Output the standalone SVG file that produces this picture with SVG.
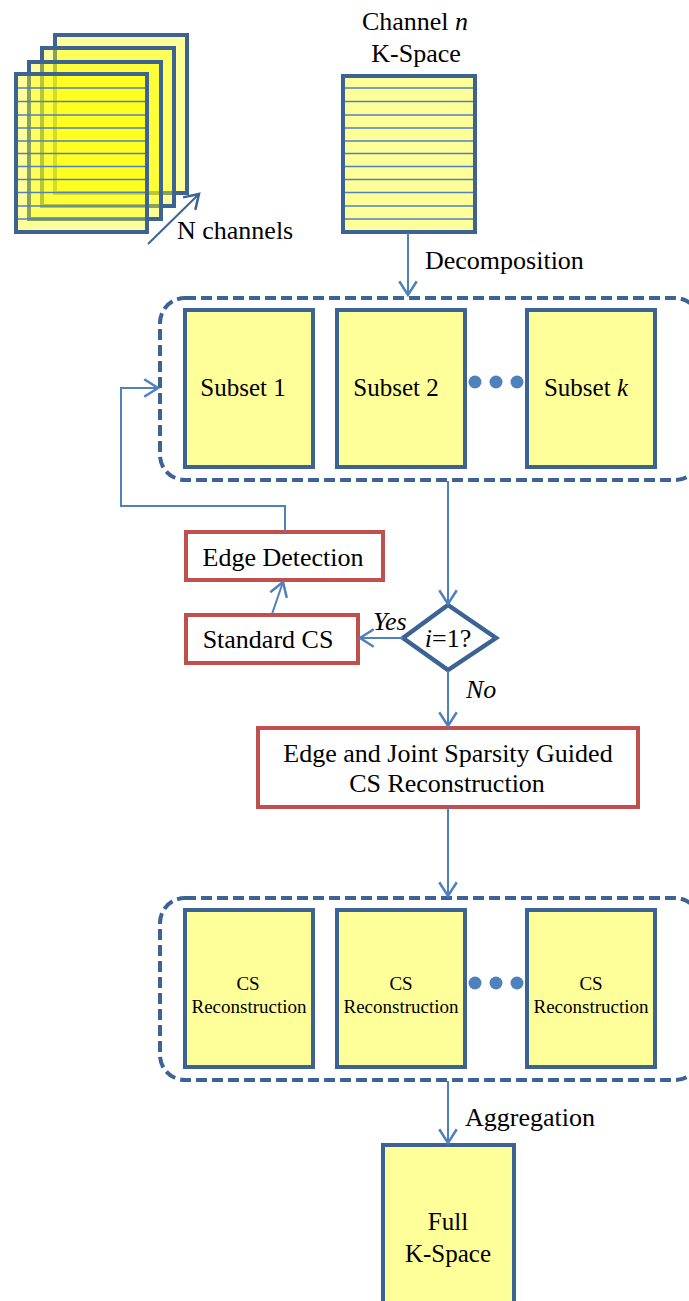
<svg xmlns="http://www.w3.org/2000/svg" width="689" height="1301" viewBox="0 0 689 1301">
<defs>
<style>
.t{font-family:"Liberation Serif","Times New Roman",serif;fill:#000;font-size:26px}
.tm{font-size:25px}
.ts{font-size:19px}
.m{text-anchor:middle}
.blk{fill:#ffff99;stroke:#3c6394;stroke-width:4}
.stk{fill:#ffff00;fill-opacity:0.4;stroke:#3c6394;stroke-width:4}
.rule{stroke:#4f81bd;stroke-width:1.6}
.red{fill:#fff;stroke:#c0504d;stroke-width:4}
.dash{fill:none;stroke:#3c6394;stroke-width:4;stroke-dasharray:11 5}
.con{fill:none;stroke:#4f81bd;stroke-width:2}
.dot{fill:#4f81bd}
</style>
<marker id="ah" markerUnits="userSpaceOnUse" markerWidth="20" markerHeight="20" viewBox="-12 -8 14 16" refX="0" refY="0" orient="auto">
<path d="M-11,-7 L0,0 L-11,7" fill="none" stroke="#4f81bd" stroke-width="2"/>
</marker>
<marker id="ahd" markerUnits="userSpaceOnUse" markerWidth="20" markerHeight="20" viewBox="-12 -8 14 16" refX="0" refY="0" orient="auto">
<path d="M-11,-7 L0,0 L-11,7" fill="none" stroke="#3c6394" stroke-width="2"/>
</marker>
</defs>

<g id="channel-stack">
<rect class="stk" x="55" y="35" width="132" height="158"/>
<rect class="stk" x="42" y="48" width="132" height="158"/>
<rect class="stk" x="29" y="62" width="132" height="157"/>
<rect class="stk" x="16" y="74" width="131" height="158"/>
<g class="rule">
<line x1="18" y1="88" x2="145" y2="88"/><line x1="18" y1="101.5" x2="145" y2="101.5"/><line x1="18" y1="115" x2="145" y2="115"/><line x1="18" y1="128" x2="145" y2="128"/><line x1="18" y1="141" x2="145" y2="141"/><line x1="18" y1="153.5" x2="145" y2="153.5"/><line x1="18" y1="166.5" x2="145" y2="166.5"/><line x1="18" y1="179.5" x2="145" y2="179.5"/><line x1="18" y1="192.5" x2="145" y2="192.5"/><line x1="18" y1="206" x2="145" y2="206"/><line x1="18" y1="219" x2="145" y2="219"/>
</g>
<line x1="148" y1="244" x2="199" y2="194" stroke="#3c6394" stroke-width="2" marker-end="url(#ahd)"/>
<text class="t" x="177" y="239">N channels</text>
</g>

<g id="channel-n">
<text class="t m" x="415" y="30">Channel <tspan font-style="italic">n</tspan></text>
<text class="t m" x="416" y="62">K-Space</text>
<rect class="blk" x="343" y="76" width="132" height="156"/>
<g class="rule">
<line x1="345" y1="88" x2="473" y2="88"/><line x1="345" y1="101.5" x2="473" y2="101.5"/><line x1="345" y1="115" x2="473" y2="115"/><line x1="345" y1="128" x2="473" y2="128"/><line x1="345" y1="141" x2="473" y2="141"/><line x1="345" y1="153.5" x2="473" y2="153.5"/><line x1="345" y1="166.5" x2="473" y2="166.5"/><line x1="345" y1="179.5" x2="473" y2="179.5"/><line x1="345" y1="192.5" x2="473" y2="192.5"/><line x1="345" y1="206" x2="473" y2="206"/><line x1="345" y1="219" x2="473" y2="219"/>
</g>
</g>

<g id="subsets">
<rect class="dash" x="160" y="298" width="540" height="182" rx="25"/>
<rect class="blk" x="185" y="310" width="128" height="157"/>
<text class="t tm m" x="243" y="396">Subset 1</text>
<rect class="blk" x="337" y="310" width="128" height="157"/>
<text class="t tm m" x="396" y="396">Subset 2</text>
<circle class="dot" cx="475" cy="382" r="6.5"/><circle class="dot" cx="496" cy="382" r="6.5"/><circle class="dot" cx="517" cy="382" r="6.5"/>
<rect class="blk" x="527" y="310" width="128" height="157"/>
<text class="t tm m" x="586" y="396">Subset <tspan font-style="italic">k</tspan></text>
</g>

<g id="edge-detection">
<rect class="red" x="186" y="532" width="197" height="48"/>
<text class="t m" x="283" y="566">Edge Detection</text>
</g>

<g id="standard-cs">
<rect class="red" x="186" y="615" width="172" height="48"/>
<text class="t m" x="268" y="648">Standard CS</text>
</g>

<g id="decision">
<polygon points="448,605 496,638 448,670 403,638" fill="#fff" stroke="#3c6394" stroke-width="4.5" stroke-linejoin="miter"/>
<text class="t m" x="448" y="647"><tspan font-style="italic">i</tspan>=1?</text>
</g>

<g id="joint-cs">
<rect class="red" x="258" y="728" width="380" height="79"/>
<text class="t m" x="448" y="762">Edge and Joint Sparsity Guided</text>
<text class="t m" x="447" y="792">CS Reconstruction</text>
</g>

<g id="reconstructions">
<rect class="dash" x="160" y="898" width="540" height="182" rx="25"/>
<rect class="blk" x="185" y="910" width="128" height="157"/>
<text class="t ts m" x="248" y="990">CS</text>
<text class="t ts m" x="249" y="1013">Reconstruction</text>
<rect class="blk" x="337" y="910" width="128" height="157"/>
<text class="t ts m" x="401" y="990">CS</text>
<text class="t ts m" x="401" y="1013">Reconstruction</text>
<circle class="dot" cx="475" cy="983" r="6.5"/><circle class="dot" cx="496" cy="983" r="6.5"/><circle class="dot" cx="517" cy="983" r="6.5"/>
<rect class="blk" x="527" y="910" width="128" height="157"/>
<text class="t ts m" x="591" y="990">CS</text>
<text class="t ts m" x="591" y="1013">Reconstruction</text>
</g>

<g id="full-kspace">
<rect class="blk" x="383" y="1145" width="131" height="170"/>
<text class="t tm m" x="448" y="1230">Full</text>
<text class="t tm m" x="448" y="1262">K-Space</text>
</g>

<g id="connectors">
<line class="con" x1="408" y1="233" x2="408" y2="295" marker-end="url(#ah)"/>
<text class="t" x="425" y="269">Decomposition</text>
<line class="con" x1="448" y1="481" x2="448" y2="604" marker-end="url(#ah)"/>
<line class="con" x1="403" y1="638" x2="360" y2="638" marker-end="url(#ah)"/>
<text class="t" x="373" y="630" font-style="italic">Yes</text>
<line class="con" x1="272" y1="614" x2="283" y2="582" marker-end="url(#ah)"/>
<polyline class="con" points="285,532 285,506 121,506 121,388 158,388" marker-end="url(#ah)"/>
<line class="con" x1="448" y1="671" x2="448" y2="726" marker-end="url(#ah)"/>
<text class="t" x="466" y="698" font-style="italic">No</text>
<line class="con" x1="448" y1="808" x2="448" y2="896" marker-end="url(#ah)"/>
<line class="con" x1="448" y1="1081" x2="448" y2="1143" marker-end="url(#ah)"/>
<text class="t" x="465" y="1126">Aggregation</text>
</g>
</svg>
